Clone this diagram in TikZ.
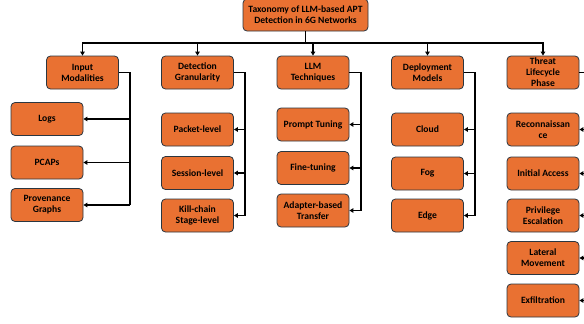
\documentclass[tikz,border=0pt]{standalone}
\usepackage{fontspec}
\setmainfont{Carlito}
\usetikzlibrary{arrows.meta}
\definecolor{boxfill}{HTML}{E97132}
\definecolor{boxline}{HTML}{2B3640}
\begin{document}
\begin{tikzpicture}
        [x=1pt, y=-1pt,
        box/.style={rectangle, rounded corners=4pt, draw=boxline, fill=boxfill, line width=0.8pt,
          minimum width=72pt, minimum height=33pt, align=center, inner sep=1pt,
          font=\bfseries\fontsize{9.6}{11}\selectfont},
        link/.style={black, line width=1.5pt},
        arrow/.style={link, -{Triangle[length=4pt, width=4.5pt]}}]

        \clip (0,0) rectangle (584,324);

        % root
        \node[box, minimum width=125pt, minimum height=32pt] (root) at (305.5,15) {Taxonomy of LLM-based APT\\Detection in 6G Networks};

        % first level
        \node[box] (inp) at (82.5,72.5) {Input\\Modalities};
        \node[box] (det) at (197.5,72.5) {Detection\\Granularity};
        \node[box] (llm) at (313,72.5) {LLM\\Techniques};
        \node[box] (dep) at (427.5,72.5) {Deployment\\Models};
        \node[box] (thr) at (543,72.5) {Threat\\Lifecycle\\Phase};

        % input modalities
        \node[box] (logs) at (47,119) {Logs};
        \node[box] (pcap) at (47,162.5) {PCAPs};
        \node[box] (prov) at (47,205) {Provenance\\Graphs};

        % detection granularity
        \node[box] (pkt) at (197.5,129.5) {Packet-level};
        \node[box] (sess) at (197.5,173) {Session-level};
        \node[box] (kill) at (197.5,215.5) {Kill-chain\\Stage-level};

        % llm techniques
        \node[box] (prompt) at (313,124.5) {Prompt Tuning};
        \node[box] (fine) at (313,168) {Fine-tuning};
        \node[box] (adapt) at (313,210.5) {Adapter-based\\Transfer};

        % deployment models
        \node[box] (cloud) at (427.5,129.5) {Cloud};
        \node[box] (fog) at (427.5,173.5) {Fog};
        \node[box] (edge) at (427.5,215.5) {Edge};

        % threat lifecycle
        \node[box] (recon) at (543,129.5) {Reconnaissan\\ce};
        \node[box] (init) at (543,173.5) {Initial Access};
        \node[box] (priv) at (543,215.5) {Privilege\\Escalation};
        \node[box] (lat) at (543,258) {Lateral\\Movement};
        \node[box] (exf) at (543,300.5) {Exfiltration};

        % bus from the root
        \coordinate (bus) at (305.5,43);
        \draw[link] (root.south) -- (bus);
        \foreach \n in {inp,det,llm,dep,thr}
            \draw[arrow] (bus) -| (\n.north);

        % side bars
        \coordinate (inpbar) at (130,0);
        \coordinate (detbar) at (245,0);
        \coordinate (llmbar) at (361,0);
        \coordinate (depbar) at (475,0);
        \coordinate (thrbar) at (590,0);

        \draw[link] (inp.east) -| (inpbar |- prov.east);
        \draw[link] (det.east) -| (detbar |- kill.east);
        \draw[link] (llm.east) -| (llmbar |- adapt.east);
        \draw[link] (dep.east) -| (depbar |- edge.east);
        \draw[link] (thr.east) -| (thrbar |- exf.east);

        \foreach \c in {logs,pcap,prov}
            \draw[arrow] (inpbar |- \c.east) -- (\c.east);
        \foreach \c in {pkt,sess,kill}
            \draw[arrow] (detbar |- \c.east) -- (\c.east);
        \foreach \c in {prompt,fine,adapt}
            \draw[arrow] (llmbar |- \c.east) -- (\c.east);
        \foreach \c in {cloud,fog,edge}
            \draw[arrow] (depbar |- \c.east) -- (\c.east);
        \foreach \c in {recon,init,priv,lat,exf}
            \draw[arrow] (thrbar |- \c.east) -- (\c.east);

    \end{tikzpicture}
\end{document}
